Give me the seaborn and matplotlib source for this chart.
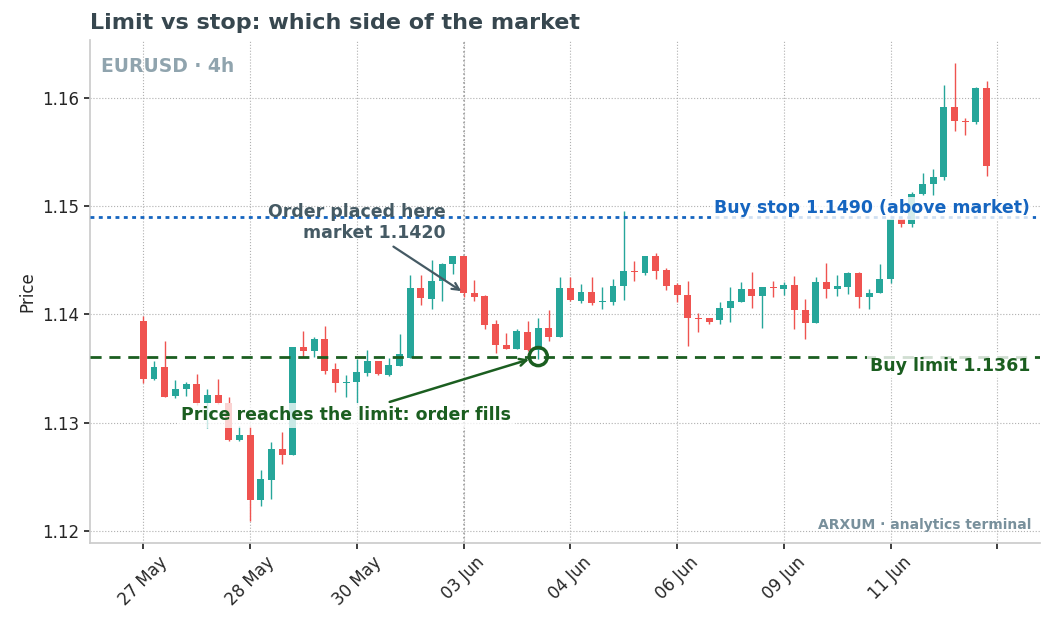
import numpy as np
import pandas as pd
import matplotlib
matplotlib.use("Agg")
import matplotlib.pyplot as plt
from matplotlib.ticker import FormatStrFormatter
import seaborn as sns

sns.set_theme(style="whitegrid", rc={
    "grid.linestyle": ":",
    "grid.color": "#b0b0b0",
    "grid.linewidth": 0.8,
    "axes.edgecolor": "#cccccc",
    "xtick.bottom": True,
    "ytick.left": True,
    "xtick.major.size": 4,
    "ytick.major.size": 4,
})
plt.rcParams["font.family"] = ["DejaVu Sans"]

# 4h candles, EURUSD
opens = [1.1394, 1.1340, 1.1351, 1.1325, 1.1331, 1.1336, 1.1318, 1.1326, 1.1318, 1.1284,
         1.1289, 1.1229, 1.1247, 1.1276, 1.1270, 1.1370, 1.1366, 1.1377, 1.1350, 1.1337,
         1.1338, 1.1346, 1.1357, 1.1344, 1.1352, 1.1360, 1.1424, 1.1414, 1.1431, 1.1446,
         1.1454, 1.1420, 1.1417, 1.1391, 1.1372, 1.1368, 1.1384, 1.1367, 1.1387, 1.1379,
         1.1424, 1.1412, 1.1421, 1.1411, 1.1411, 1.1426, 1.1440, 1.1438, 1.1454, 1.1441,
         1.1427, 1.1418, 1.1397, 1.1397, 1.1395, 1.1406, 1.1411, 1.1423, 1.1417, 1.1425,
         1.1423, 1.1427, 1.1404, 1.1392, 1.1430, 1.1423, 1.1425, 1.1438, 1.1416, 1.1420,
         1.1433, 1.1488, 1.1483, 1.1511, 1.1520, 1.1527, 1.1591, 1.1578, 1.1577, 1.1609]
highs = [1.1398, 1.1357, 1.1375, 1.1339, 1.1338, 1.1345, 1.1331, 1.1340, 1.1324, 1.1297,
         1.1297, 1.1256, 1.1282, 1.1291, 1.1370, 1.1385, 1.1379, 1.1389, 1.1355, 1.1344,
         1.1359, 1.1367, 1.1357, 1.1360, 1.1382, 1.1436, 1.1436, 1.1450, 1.1447, 1.1454,
         1.1454, 1.1432, 1.1418, 1.1395, 1.1383, 1.1386, 1.1394, 1.1397, 1.1404, 1.1434,
         1.1434, 1.1428, 1.1434, 1.1425, 1.1433, 1.1495, 1.1449, 1.1454, 1.1457, 1.1443,
         1.1429, 1.1431, 1.1401, 1.1397, 1.1411, 1.1425, 1.1430, 1.1439, 1.1425, 1.1431,
         1.1430, 1.1435, 1.1414, 1.1434, 1.1447, 1.1436, 1.1439, 1.1439, 1.1423, 1.1446,
         1.1489, 1.1488, 1.1513, 1.1530, 1.1534, 1.1612, 1.1632, 1.1581, 1.1610, 1.1615]
lows = [1.1337, 1.1339, 1.1324, 1.1323, 1.1325, 1.1316, 1.1295, 1.1317, 1.1283, 1.1283,
        1.1209, 1.1223, 1.1230, 1.1262, 1.1270, 1.1361, 1.1361, 1.1345, 1.1328, 1.1324,
        1.1318, 1.1343, 1.1344, 1.1343, 1.1352, 1.1360, 1.1409, 1.1405, 1.1412, 1.1437,
        1.1416, 1.1412, 1.1386, 1.1364, 1.1368, 1.1368, 1.1366, 1.1359, 1.1375, 1.1379,
        1.1412, 1.1410, 1.1409, 1.1405, 1.1409, 1.1413, 1.1431, 1.1436, 1.1433, 1.1422,
        1.1411, 1.1371, 1.1384, 1.1391, 1.1391, 1.1393, 1.1411, 1.1406, 1.1387, 1.1416,
        1.1418, 1.1386, 1.1377, 1.1392, 1.1415, 1.1417, 1.1419, 1.1406, 1.1405, 1.1420,
        1.1429, 1.1481, 1.1481, 1.1510, 1.1510, 1.1524, 1.1569, 1.1565, 1.1576, 1.1528]
closes = [1.1340, 1.1351, 1.1324, 1.1331, 1.1336, 1.1318, 1.1326, 1.1318, 1.1284, 1.1289,
          1.1229, 1.1248, 1.1276, 1.1270, 1.1370, 1.1366, 1.1377, 1.1348, 1.1337, 1.1338,
          1.1347, 1.1357, 1.1345, 1.1353, 1.1363, 1.1424, 1.1415, 1.1431, 1.1446, 1.1454,
          1.1420, 1.1416, 1.1390, 1.1372, 1.1368, 1.1385, 1.1367, 1.1387, 1.1379, 1.1424,
          1.1413, 1.1421, 1.1410, 1.1412, 1.1426, 1.1440, 1.1439, 1.1454, 1.1440, 1.1426,
          1.1418, 1.1397, 1.1396, 1.1393, 1.1406, 1.1412, 1.1423, 1.1417, 1.1425, 1.1424,
          1.1427, 1.1404, 1.1392, 1.1430, 1.1423, 1.1426, 1.1438, 1.1416, 1.1420, 1.1433,
          1.1488, 1.1483, 1.1511, 1.1520, 1.1527, 1.1591, 1.1578, 1.1577, 1.1609, 1.1537]

tick_pos = [0, 10, 20, 30, 40, 50, 60, 70, 80]
tick_labels = ["27 May", "28 May", "30 May", "03 Jun", "04 Jun", "06 Jun", "09 Jun", "11 Jun", ""]

market_idx = 30
market_price = 1.1420
fill_idx = 37
buy_limit = 1.1361
buy_stop = 1.1490

UP, DOWN = "#26a69a", "#ef5350"
BLUE, GREEN, SLATE = "#1565c0", "#1b5e20", "#455a64"

df = pd.DataFrame({"open": opens, "high": highs, "low": lows, "close": closes})
df["idx"] = np.arange(len(df))
colors = np.where(df["close"] >= df["open"], UP, DOWN)

fig, ax = plt.subplots(figsize=(10.51, 6.27), dpi=100)

# wicks + bodies
ax.vlines(df["idx"], df["low"], df["high"], color=colors, linewidth=1, zorder=2)
body_bottom = np.minimum(df["open"], df["close"])
body_h = np.maximum((df["close"] - df["open"]).abs(), 0.00004)
ax.bar(df["idx"], body_h, bottom=body_bottom, width=0.65, color=colors, linewidth=0, zorder=3)

# order levels
ax.axhline(buy_stop, color=BLUE, linestyle=(0, (1.4, 1.6)), linewidth=2, zorder=4)
ax.axhline(buy_limit, color=GREEN, linestyle=(0, (4, 2.8)), linewidth=2, zorder=4)
ax.axvline(market_idx, color="#9e9e9e", linestyle=":", linewidth=1.2, zorder=1)

ax.annotate("Buy stop 1.1490 (above market)", xy=(83.1, buy_stop), xytext=(0, 6),
            textcoords="offset points", ha="right", va="center", fontsize=12.5,
            fontweight="bold", color=BLUE, zorder=6,
            bbox=dict(boxstyle="square,pad=0.15", fc="white", ec="none", alpha=0.8))
ax.annotate("Buy limit 1.1361", xy=(83.1, buy_limit), xytext=(0, -6.5),
            textcoords="offset points", ha="right", va="center", fontsize=12.5,
            fontweight="bold", color=GREEN, zorder=6,
            bbox=dict(boxstyle="square,pad=0.2", fc="white", ec="none", alpha=0.8))

ax.annotate("Order placed here\nmarket 1.1420", xy=(market_idx, market_price),
            xytext=(28.3, 1.14848), ha="right", va="center", fontsize=12.5,
            fontweight="bold", color=SLATE, zorder=6,
            arrowprops=dict(arrowstyle="->", color=SLATE, lw=1.6))

sns.scatterplot(x=[fill_idx], y=[buy_limit], s=170, facecolor="none",
                edgecolor=GREEN, linewidth=2.5, ax=ax, zorder=7)
ax.annotate("Price reaches the limit: order fills", xy=(fill_idx, buy_limit),
            xytext=(19.0, 1.13069), ha="center", va="center", fontsize=12.5,
            fontweight="bold", color=GREEN, zorder=6,
            bbox=dict(boxstyle="square,pad=0.2", fc="white", ec="none", alpha=0.75),
            arrowprops=dict(arrowstyle="->", color=GREEN, lw=1.8, shrinkB=7))

ax.text(0.0116, 0.948, "EURUSD · 4h", transform=ax.transAxes, ha="left", va="center",
        fontsize=13.5, fontweight="bold", color="#90a4ae")
ax.text(0.9905, 0.036, "ARXUM · analytics terminal", transform=ax.transAxes, ha="right",
        va="center", fontsize=10, fontweight="bold", color="#78909c")

ax.set_xlim(-5, 84)
ax.set_ylim(1.1189, 1.1653)
ax.set_xticks(tick_pos)
ax.set_xticklabels(tick_labels, rotation=45, fontsize=12)
ax.set_yticks([1.12, 1.13, 1.14, 1.15, 1.16])
ax.yaxis.set_major_formatter(FormatStrFormatter("%.2f"))
ax.tick_params(axis="y", labelsize=12)
ax.set_ylabel("Price", fontsize=12)
ax.set_xlabel("")
ax.set_title("Limit vs stop: which side of the market", loc="left", fontsize=16,
             fontweight="bold", color="#37474f", pad=8)
sns.despine(ax=ax)

plt.subplots_adjust(left=0.0856, right=0.9895, top=0.936, bottom=0.134)
plt.savefig("out.png", dpi=100)
